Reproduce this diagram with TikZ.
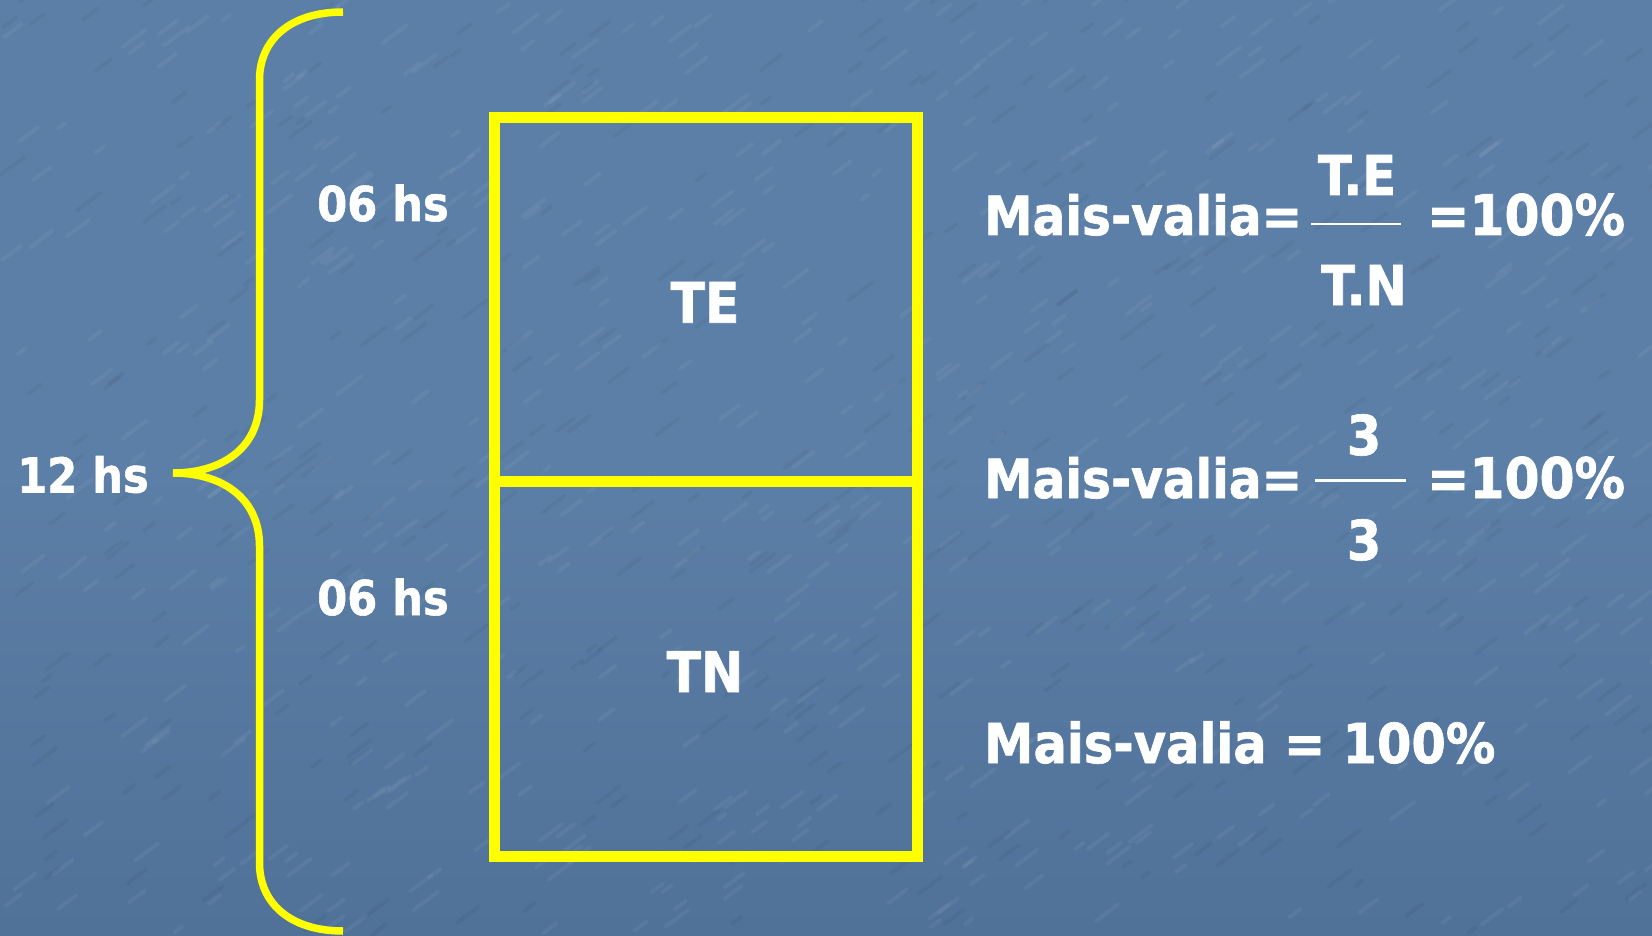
\documentclass[tikz,border=0pt]{standalone}
\usepackage{fontspec}
\setmainfont{DejaVu Sans Condensed}[BoldFeatures={FakeBold=1.2}]
\definecolor{bgblue}{RGB}{92,127,167}
\definecolor{bgdark}{RGB}{80,113,152}
\definecolor{hiyellow}{RGB}{255,255,0}
\begin{document}
\begin{tikzpicture}[x=1pt,y=-1pt,
  hours/.style={text=white,inner sep=0pt,anchor=base west,font=\bfseries\fontsize{48}{48}\selectfont},
  cell/.style={text=white,inner sep=0pt,anchor=base,font=\bfseries\fontsize{56}{56}\selectfont},
  eq/.style={text=white,inner sep=0pt,anchor=base west,font=\bfseries\fontsize{55}{55}\selectfont},
  lhs/.style={eq,font=\bfseries\fontsize{54}{54}\selectfont},
  rhs/.style={eq,font=\bfseries\fontsize{56}{56}\selectfont},
  num/.style={text=white,inner sep=0pt,anchor=base,font=\bfseries\fontsize{55}{55}\selectfont},
  fracbar/.style={draw=white,line width=2.5pt},
  frame/.style={draw=hiyellow,line width=11pt,line join=miter},
  bracket/.style={draw=hiyellow,line width=7.5pt,line cap=butt},
  streak/.style={draw=white,line width=4pt,line cap=round,opacity=0.05},
  shadowstreak/.style={draw=black,line width=4pt,line cap=round,opacity=0.04}]
\useasboundingbox (0,0) rectangle (1652,936);
% background with a faint mottled texture
\shade[top color=bgblue,bottom color=bgdark,middle color=bgblue] (0,0) rectangle (1652,936);
\begin{scope}
  \clip (0,0) rectangle (1652,936);
  \pgfmathsetseed{4217}
  \foreach \k in {1,...,600}{
    \pgfmathsetmacro{\px}{rnd*1652}
    \pgfmathsetmacro{\py}{rnd*936}
    \pgfmathsetmacro{\pl}{8+rnd*22}
    \draw[streak] (\px,\py) -- ++(\pl*0.8,-\pl*0.6);
  }
  \foreach \k in {1,...,400}{
    \pgfmathsetmacro{\px}{rnd*1652}
    \pgfmathsetmacro{\py}{rnd*936}
    \pgfmathsetmacro{\pl}{8+rnd*22}
    \draw[shadowstreak] (\px,\py) -- ++(\pl*0.8,-\pl*0.6);
  }
\end{scope}

% the working day split into two halves
\draw[frame] (494.5,118) rectangle (917.5,856.5);
\draw[frame] (494.5,481) -- (917.5,481);
\node[cell] (te) at (705,322.7) {TE};
\node[cell] (tn) at (705,692) {TN};

% curly brace spanning the 12 hours
\draw[bracket] (343,12) .. controls (290,12) and (259.5,40) .. (259.5,80)
  -- (259.5,400) .. controls (259.5,448) and (222,473) .. (173,473)
  .. controls (222,473) and (259.5,498) .. (259.5,546)
  -- (259.5,863) .. controls (259.5,903) and (290,931) .. (343,931);

\node[hours] (h12) at (17,492.5) {12 hs};
\node[hours] (h6a) at (317,221) {06 hs};
\node[hours] (h6b) at (317,615) {06 hs};

% first formula
\node[lhs] (mv1) at (984,235) {Mais-valia=};
\node[num] (num1) at (1357,195) {T.E};
\node[num] (den1) at (1364,305) {T.N};
\coordinate (b1l) at (1311,224);
\coordinate (b1r) at (1401,224);
\draw[fracbar] (b1l) -- (b1r);
\node[rhs] (r1) at (1427,235) {=100\%};

% second formula
\node[lhs] (mv2) at (984,498) {Mais-valia=};
\node[num] (num2) at (1364,455) {3};
\node[num] (den2) at (1364,560) {3};
\coordinate (b2l) at (1315,480.5);
\coordinate (b2r) at (1406,480.5);
\draw[fracbar] (b2l) -- (b2r);
\node[rhs] (r2) at (1427,498) {=100\%};

% result
\node[eq] (mv3) at (984,763) {Mais-valia = 100\%};
\end{tikzpicture}
\end{document}
